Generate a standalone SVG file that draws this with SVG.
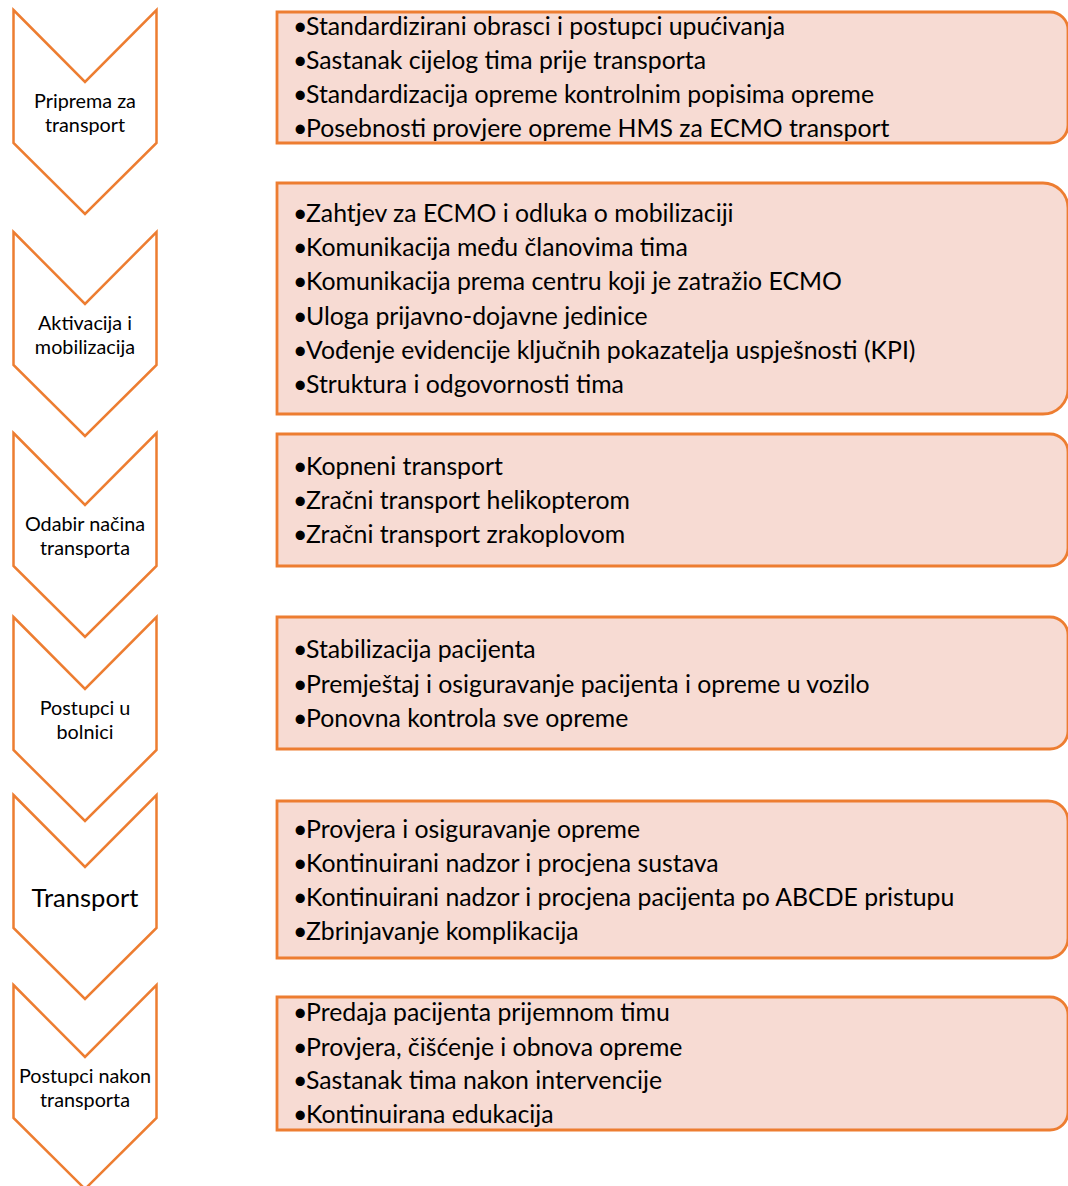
<svg xmlns="http://www.w3.org/2000/svg" width="1068" height="1186" viewBox="0 0 1068 1186">
<style>
.chev{fill:#ffffff;stroke:#ED7D31;stroke-width:2.5;stroke-linejoin:miter}
.box{fill:#F7DBD3;stroke:#ED7D31;stroke-width:2.8}
.lbl{font-family:Lato,"Liberation Sans",sans-serif;font-size:19.8px;fill:#000;text-anchor:middle}
.big{font-size:25.6px}
.itm{font-family:Lato,"Liberation Sans",sans-serif;font-size:24.8px;fill:#000}
</style>
<rect width="1068" height="1186" fill="#ffffff"/>
<g id="connectors"></g>
<g id="step1">
<path class="chev" d="M13.5,10 L85,82 L156.5,10 L156.5,143 L85,214 L13.5,143 Z"/>
<text class="lbl" x="85" y="108">Priprema za</text>
<text class="lbl" x="85" y="132">transport</text>
</g>
<g id="list1">
<path class="box" d="M277,12 H1050 A18,18 0 0 1 1068,30 V125 A18,18 0 0 1 1050,143 H277 Z"/>
<text class="itm" x="293" y="35">•</text><text class="itm" x="306" y="35">Standardizirani obrasci i postupci upućivanja</text>
<text class="itm" x="293" y="69">•</text><text class="itm" x="306" y="69">Sastanak cijelog tima prije transporta</text>
<text class="itm" x="293" y="103">•</text><text class="itm" x="306" y="103">Standardizacija opreme kontrolnim popisima opreme</text>
<text class="itm" x="293" y="137">•</text><text class="itm" x="306" y="137">Posebnosti provjere opreme HMS za ECMO transport</text>
</g>
<g id="step2">
<path class="chev" d="M13.5,232 L85,304 L156.5,232 L156.5,365 L85,436 L13.5,365 Z"/>
<text class="lbl" x="85" y="330">Aktivacija i</text>
<text class="lbl" x="85" y="354">mobilizacija</text>
</g>
<g id="list2">
<path class="box" d="M277,183 H1043 A25,25 0 0 1 1068,208 V389 A25,25 0 0 1 1043,414 H277 Z"/>
<text class="itm" x="293" y="222">•</text><text class="itm" x="306" y="222">Zahtjev za ECMO i odluka o mobilizaciji</text>
<text class="itm" x="293" y="256">•</text><text class="itm" x="306" y="256">Komunikacija među članovima tima</text>
<text class="itm" x="293" y="290">•</text><text class="itm" x="306" y="290">Komunikacija prema centru koji je zatražio ECMO</text>
<text class="itm" x="293" y="325">•</text><text class="itm" x="306" y="325">Uloga prijavno-dojavne jedinice</text>
<text class="itm" x="293" y="359">•</text><text class="itm" x="306" y="359">Vođenje evidencije ključnih pokazatelja uspješnosti (KPI)</text>
<text class="itm" x="293" y="393">•</text><text class="itm" x="306" y="393">Struktura i odgovornosti tima</text>
</g>
<g id="step3">
<path class="chev" d="M13.5,433 L85,505 L156.5,433 L156.5,566 L85,637 L13.5,566 Z"/>
<text class="lbl" x="85" y="531">Odabir načina</text>
<text class="lbl" x="85" y="555">transporta</text>
</g>
<g id="list3">
<path class="box" d="M277,434 H1050 A18,18 0 0 1 1068,452 V548 A18,18 0 0 1 1050,566 H277 Z"/>
<text class="itm" x="293" y="475">•</text><text class="itm" x="306" y="475">Kopneni transport</text>
<text class="itm" x="293" y="509">•</text><text class="itm" x="306" y="509">Zračni transport helikopterom</text>
<text class="itm" x="293" y="543">•</text><text class="itm" x="306" y="543">Zračni transport zrakoplovom</text>
</g>
<g id="step4">
<path class="chev" d="M13.5,617 L85,689 L156.5,617 L156.5,750 L85,821 L13.5,750 Z"/>
<text class="lbl" x="85" y="715">Postupci u</text>
<text class="lbl" x="85" y="739">bolnici</text>
</g>
<g id="list4">
<path class="box" d="M277,617 H1050 A18,18 0 0 1 1068,635 V731 A18,18 0 0 1 1050,749 H277 Z"/>
<text class="itm" x="293" y="658">•</text><text class="itm" x="306" y="658">Stabilizacija pacijenta</text>
<text class="itm" x="293" y="693">•</text><text class="itm" x="306" y="693">Premještaj i osiguravanje pacijenta i opreme u vozilo</text>
<text class="itm" x="293" y="727">•</text><text class="itm" x="306" y="727">Ponovna kontrola sve opreme</text>
</g>
<g id="step5">
<path class="chev" d="M13.5,795 L85,867 L156.5,795 L156.5,928 L85,999 L13.5,928 Z"/>
<text class="lbl big" x="85" y="907">Transport</text>
</g>
<g id="list5">
<path class="box" d="M277,801 H1048 A20,20 0 0 1 1068,821 V938 A20,20 0 0 1 1048,958 H277 Z"/>
<text class="itm" x="293" y="838">•</text><text class="itm" x="306" y="838">Provjera i osiguravanje opreme</text>
<text class="itm" x="293" y="872">•</text><text class="itm" x="306" y="872">Kontinuirani nadzor i procjena sustava</text>
<text class="itm" x="293" y="906">•</text><text class="itm" x="306" y="906">Kontinuirani nadzor i procjena pacijenta po ABCDE pristupu</text>
<text class="itm" x="293" y="940">•</text><text class="itm" x="306" y="940">Zbrinjavanje komplikacija</text>
</g>
<g id="step6">
<path class="chev" d="M13.5,985 L85,1057 L156.5,985 L156.5,1118 L85,1189 L13.5,1118 Z"/>
<text class="lbl" x="85" y="1083">Postupci nakon</text>
<text class="lbl" x="85" y="1107">transporta</text>
</g>
<g id="list6">
<path class="box" d="M277,997 H1050 A18,18 0 0 1 1068,1015 V1112 A18,18 0 0 1 1050,1130 H277 Z"/>
<text class="itm" x="293" y="1021">•</text><text class="itm" x="306" y="1021">Predaja pacijenta prijemnom timu</text>
<text class="itm" x="293" y="1056">•</text><text class="itm" x="306" y="1056">Provjera, čišćenje i obnova opreme</text>
<text class="itm" x="293" y="1089">•</text><text class="itm" x="306" y="1089">Sastanak tima nakon intervencije</text>
<text class="itm" x="293" y="1123">•</text><text class="itm" x="306" y="1123">Kontinuirana edukacija</text>
</g>
</svg>
